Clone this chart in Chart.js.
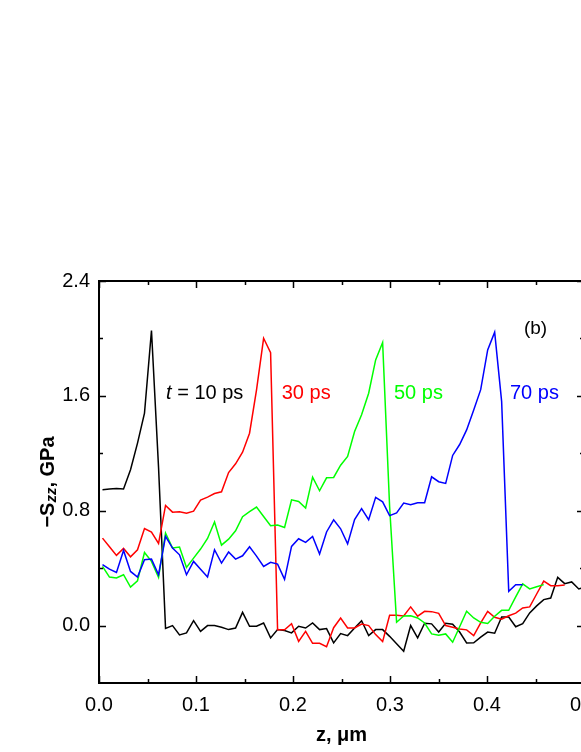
<!DOCTYPE html>
<html>
<head>
<meta charset="utf-8">
<script src="https://cdn.jsdelivr.net/npm/chart.js@4.4.0/dist/chart.umd.min.js"></script>
<style>
  html, body { margin: 0; padding: 0; background: #fff; overflow: hidden; }
  #frame { width: 581px; height: 752px; overflow: hidden; position: relative; }
  #stress { display: block; }
</style>
</head>
<body>
<div id="frame"><canvas id="stress" width="620" height="752"></canvas></div>
<script>
// depth z (µm) of the sampled cells
const zValues = [
  0.0036, 0.0108, 0.0180, 0.0253, 0.0325, 0.0397, 0.0469, 0.0541, 0.0614, 0.0686,
  0.0758, 0.0830, 0.0902, 0.0975, 0.1047, 0.1119, 0.1191, 0.1263, 0.1336, 0.1408,
  0.1480, 0.1552, 0.1624, 0.1697, 0.1769, 0.1841, 0.1913, 0.1985, 0.2058, 0.2130,
  0.2202, 0.2274, 0.2346, 0.2419, 0.2491, 0.2563, 0.2635, 0.2707, 0.2780, 0.2852,
  0.2924, 0.2996, 0.3068, 0.3141, 0.3213, 0.3285, 0.3357, 0.3429, 0.3502, 0.3574,
  0.3646, 0.3718, 0.3790, 0.3863, 0.3935, 0.4007, 0.4079, 0.4151, 0.4224, 0.4296,
  0.4368, 0.4440, 0.4512, 0.4585, 0.4657, 0.4729, 0.4801, 0.4873, 0.4946, 0.5018
];

// -Szz (GPa) at t = 10, 30, 50, 70 ps
const stress10ps = [
  0.946, 0.951, 0.955, 0.951, 1.085, 1.271, 1.480, 2.055, 1.100, -0.020,
  0.000, -0.065, -0.051, 0.034, -0.040, 0.000, 0.000, -0.012, -0.028, -0.017,
  0.092, -0.005, -0.005, 0.018, -0.086, -0.028, -0.035, -0.051, -0.005, -0.017,
  0.018, -0.028, -0.021, -0.121, -0.056, -0.070, -0.017, 0.034, -0.070, -0.028,
  -0.028, -0.075, -0.126, -0.179, 0.000, -0.086, 0.016, 0.012, -0.045, 0.016,
  0.010, -0.045, -0.121, -0.120, -0.080, -0.045, -0.053, 0.060, 0.060, -0.008,
  0.014, 0.088, 0.137, 0.181, 0.192, 0.336, 0.292, 0.304, 0.255, 0.270
];
const stress30ps = [
  0.609, 0.549, 0.489, 0.537, 0.479, 0.528, 0.676, 0.651, 0.572, 0.837,
  0.790, 0.792, 0.783, 0.797, 0.874, 0.895, 0.920, 0.932, 1.066, 1.127,
  1.208, 1.340, 1.642, 2.001, 1.901, -0.029, -0.029, 0.013, -0.110, -0.040,
  -0.124, -0.124, -0.147, -0.015, 0.052, -0.017, -0.017, 0.010, 0.000, -0.063,
  -0.112, 0.072, 0.072, 0.067, 0.130, 0.065, 0.099, 0.097, 0.085, 0.000,
  -0.012, -0.024, -0.030, -0.070, 0.018, 0.099, 0.058, 0.045, 0.068, 0.087,
  0.123, 0.130, 0.220, 0.310, 0.278, 0.278, 0.283
];
const stress50ps = [
  0.412, 0.338, 0.331, 0.354, 0.268, 0.312, 0.509, 0.447, 0.335, 0.644,
  0.540, 0.547, 0.405, 0.470, 0.533, 0.607, 0.721, 0.560, 0.602, 0.660,
  0.758, 0.793, 0.825, 0.760, 0.695, 0.701, 0.683, 0.876, 0.864, 0.818,
  1.034, 0.939, 1.029, 1.032, 1.117, 1.178, 1.352, 1.468, 1.618, 1.850,
  1.971, 0.830, 0.023, 0.067, 0.069, 0.053, 0.018, -0.058, -0.068, -0.058,
  -0.116, -0.008, 0.100, 0.053, 0.023, 0.014, 0.065, 0.106, 0.106, 0.200,
  0.290, 0.255, 0.270, 0.285
];
const stress70ps = [
  0.424, 0.393, 0.370, 0.523, 0.377, 0.338, 0.458, 0.463, 0.354, 0.621,
  0.540, 0.493, 0.354, 0.447, 0.393, 0.338, 0.528, 0.435, 0.512, 0.463,
  0.486, 0.549, 0.484, 0.412, 0.441, 0.428, 0.322, 0.551, 0.605, 0.580,
  0.621, 0.499, 0.652, 0.737, 0.674, 0.569, 0.739, 0.815, 0.737, 0.893,
  0.862, 0.766, 0.785, 0.853, 0.841, 0.855, 0.855, 1.036, 1.002, 0.990,
  1.185, 1.261, 1.363, 1.502, 1.643, 1.920, 2.043, 1.560, 0.239, 0.285,
  0.285
];

const xTicks = [0.0, 0.1, 0.2, 0.3, 0.4, 0.5];
const xMinorTicks = [0.05, 0.15, 0.25, 0.35, 0.45];
const yTicks = [0.0, 0.8, 1.6, 2.4];
const yMinorTicks = [0.4, 1.2, 2.0];

const timeLabels = ['10 ps', '30 ps', '50 ps', '70 ps'];

const colors = ['#000000', '#ff0000', '#00ff00', '#0000ff'];

// where the in-plot labels sit, in data units
const labelSpots = [
  { z: 0.0691, s: 1.575 },
  { z: 0.1884, s: 1.575 },
  { z: 0.3041, s: 1.575 },
  { z: 0.4237, s: 1.575 }
];
const panelSpot = { z: 0.4381, s: 2.03 };

const FONT = "'Liberation Sans', Arial, Helvetica, sans-serif";
Chart.defaults.font.family = FONT;
Chart.defaults.color = '#000';

function toPoints(values) {
  return values.map((s, i) => ({ x: zValues[i], y: s }));
}

const frameDecor = {
  id: 'frameDecor',
  afterDraw(chart) {
    const { ctx, chartArea: a, scales: { x, y } } = chart;
    ctx.save();
    ctx.strokeStyle = '#000';
    ctx.lineWidth = 2;
    ctx.beginPath();
    ctx.moveTo(a.left - 1, a.top);
    ctx.lineTo(a.right, a.top);
    ctx.lineTo(a.right, a.bottom + 1);
    ctx.stroke();

    ctx.lineWidth = 1.5;
    ctx.beginPath();
    const xTick = (v, len) => {
      const px = Math.round(x.getPixelForValue(v)) + 0.5;
      ctx.moveTo(px, a.bottom); ctx.lineTo(px, a.bottom - len);
      ctx.moveTo(px, a.top); ctx.lineTo(px, a.top + len);
    };
    const yTick = (v, len) => {
      const py = Math.round(y.getPixelForValue(v)) + 0.5;
      ctx.moveTo(a.left, py); ctx.lineTo(a.left + len, py);
      ctx.moveTo(a.right, py); ctx.lineTo(a.right - len, py);
    };
    xTicks.forEach(v => xTick(v, 7));
    xMinorTicks.forEach(v => xTick(v, 4));
    yTicks.forEach(v => yTick(v, 7));
    yMinorTicks.forEach(v => yTick(v, 4));
    ctx.stroke();

    // labels for the curves
    ctx.font = '20px ' + FONT;
    ctx.textBaseline = 'alphabetic';
    ctx.textAlign = 'left';
    labelSpots.forEach((spot, i) => {
      let px = x.getPixelForValue(spot.z);
      const py = y.getPixelForValue(spot.s);
      ctx.fillStyle = colors[i];
      if (i === 0) {
        ctx.font = 'italic 20px ' + FONT;
        ctx.fillText('t', px, py);
        px += ctx.measureText('t').width;
        ctx.font = '20px ' + FONT;
        ctx.fillText(' = ' + timeLabels[i], px, py);
      } else {
        ctx.fillText(timeLabels[i], px, py);
      }
    });
    ctx.fillStyle = '#000';
    ctx.font = '19px ' + FONT;
    ctx.fillText('(b)', x.getPixelForValue(panelSpot.z), y.getPixelForValue(panelSpot.s));

    // y axis title: −Szz, GPa
    const parts = [
      { t: '\u2212S', f: 'bold 20px ' + FONT, dy: 0 },
      { t: 'zz', f: 'italic bold 15px ' + FONT, dy: 1.5 },
      { t: ', GPa', f: 'bold 20px ' + FONT, dy: 0 }
    ];
    let total = 0;
    parts.forEach(p => { ctx.font = p.f; p.w = ctx.measureText(p.t).width; total += p.w; });
    ctx.translate(a.left - 45, (a.top + a.bottom) / 2);
    ctx.rotate(-Math.PI / 2);
    let cx = -total / 2;
    parts.forEach(p => {
      ctx.font = p.f;
      ctx.fillText(p.t, cx, p.dy);
      cx += p.w;
    });
    ctx.restore();
  }
};

const datasets = [stress10ps, stress30ps, stress50ps, stress70ps].map((vals, i) => ({
  label: timeLabels[i],
  data: toPoints(vals),
  borderColor: colors[i],
  backgroundColor: colors[i],
  borderWidth: 1.5,
  pointRadius: 0,
  tension: 0,
  fill: false,
  order: 4 - i
}));

new Chart(document.getElementById('stress'), {
  type: 'line',
  data: { datasets },
  options: {
    responsive: false,
    animation: false,
    devicePixelRatio: 1,
    layout: { padding: { top: 281, right: 36, bottom: 0, left: 0 } },
    plugins: { legend: { display: false }, tooltip: { enabled: false } },
    scales: {
      x: {
        type: 'linear',
        min: 0,
        max: 0.5,
        grid: { display: false, drawTicks: false },
        border: { display: true, color: '#000', width: 2 },
        afterBuildTicks: (scale) => { scale.ticks = xTicks.map(v => ({ value: v })); },
        ticks: {
          padding: 10,
          maxRotation: 0,
          autoSkip: false,
          font: { size: 20 },
          callback: (v) => Number(v).toFixed(1)
        },
        title: {
          display: true,
          text: 'z, \u03bcm',
          font: { size: 20, weight: 'bold' },
          padding: { top: 0, bottom: 5 }
        },
        afterFit: (scale) => { scale.height = 69; }
      },
      y: {
        type: 'linear',
        min: -0.4,
        max: 2.4,
        grid: { display: false, drawTicks: false },
        border: { display: true, color: '#000', width: 2 },
        afterBuildTicks: (scale) => { scale.ticks = yTicks.map(v => ({ value: v })); },
        ticks: {
          padding: 9,
          autoSkip: false,
          font: { size: 20 },
          callback: (v) => Number(v).toFixed(1)
        },
        afterFit: (scale) => { scale.width = 99; }
      }
    }
  },
  plugins: [frameDecor]
});
</script>
</body>
</html>
